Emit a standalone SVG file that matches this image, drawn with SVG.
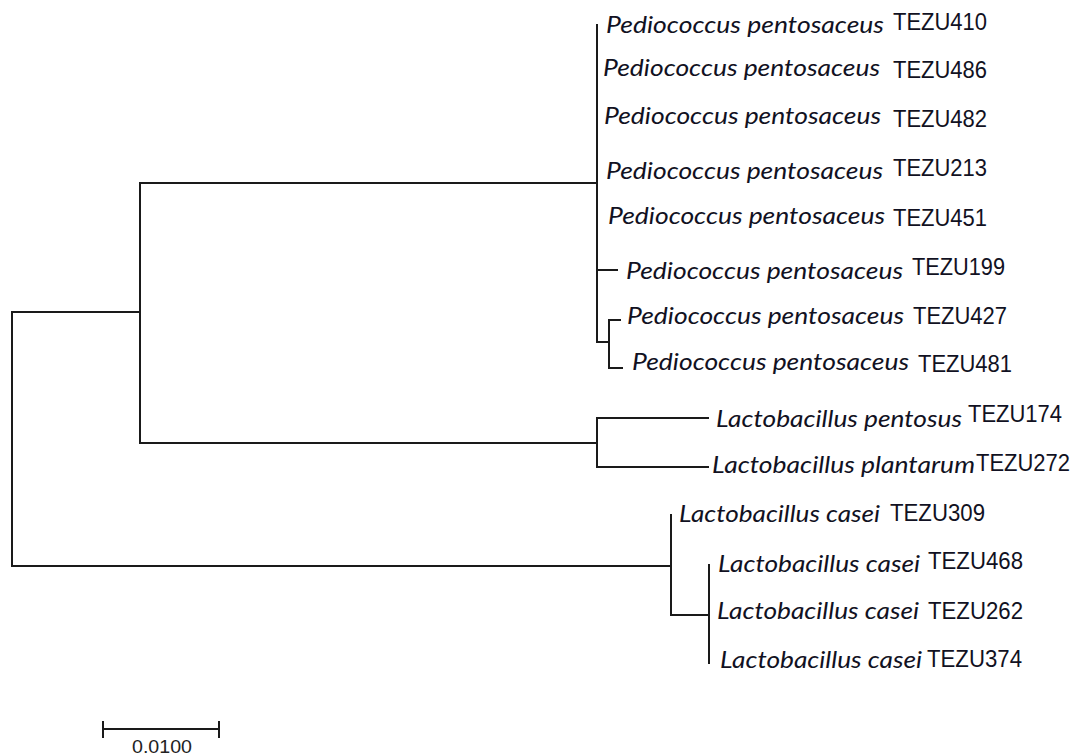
<svg xmlns="http://www.w3.org/2000/svg" width="1075" height="756" viewBox="0 0 1075 756">
<style>
.br{stroke:#1a1a1a;stroke-width:2;fill:none;stroke-linecap:square}
.sp{font-family:Lato,"Liberation Sans",sans-serif;font-style:italic;font-size:24px;fill:#111122}
.st{font-family:"Liberation Sans",Arial,sans-serif;font-size:23px;fill:#111122}
.sc{font-family:"Liberation Sans",Arial,sans-serif;font-size:18px;fill:#222}
</style>
<rect width="1075" height="756" fill="#fff"/>
<g id="connectors" class="br">
<path d="M12 312V566"/>
<path d="M12 312H140"/>
<path d="M140 183V443"/>
<path d="M140 183H597"/>
<path d="M597 25V342"/>
<path d="M597 270H617"/>
<path d="M597 342H609"/>
<path d="M609 320V368"/>
<path d="M609 320H620"/>
<path d="M609 368H622"/>
<path d="M140 443H597"/>
<path d="M597 418V467"/>
<path d="M597 418H708"/>
<path d="M597 467H708"/>
<path d="M12 566H671"/>
<path d="M671 515V615"/>
<path d="M671 615H709"/>
<path d="M709 565V663"/>
</g>
<g id="leaf-TEZU410"><text class="sp" x="606" y="33" textLength="278" lengthAdjust="spacingAndGlyphs">Pediococcus pentosaceus</text><text class="st" x="893" y="30" textLength="94" lengthAdjust="spacingAndGlyphs">TEZU410</text></g>
<g id="leaf-TEZU486"><text class="sp" x="603" y="76" textLength="277" lengthAdjust="spacingAndGlyphs">Pediococcus pentosaceus</text><text class="st" x="893" y="78" textLength="94" lengthAdjust="spacingAndGlyphs">TEZU486</text></g>
<g id="leaf-TEZU482"><text class="sp" x="604" y="124" textLength="277" lengthAdjust="spacingAndGlyphs">Pediococcus pentosaceus</text><text class="st" x="893" y="127" textLength="94" lengthAdjust="spacingAndGlyphs">TEZU482</text></g>
<g id="leaf-TEZU213"><text class="sp" x="606" y="179" textLength="277" lengthAdjust="spacingAndGlyphs">Pediococcus pentosaceus</text><text class="st" x="893" y="176" textLength="94" lengthAdjust="spacingAndGlyphs">TEZU213</text></g>
<g id="leaf-TEZU451"><text class="sp" x="608" y="224" textLength="277" lengthAdjust="spacingAndGlyphs">Pediococcus pentosaceus</text><text class="st" x="893" y="226" textLength="94" lengthAdjust="spacingAndGlyphs">TEZU451</text></g>
<g id="leaf-TEZU199"><text class="sp" x="626" y="279" textLength="277" lengthAdjust="spacingAndGlyphs">Pediococcus pentosaceus</text><text class="st" x="912" y="275" textLength="93" lengthAdjust="spacingAndGlyphs">TEZU199</text></g>
<g id="leaf-TEZU427"><text class="sp" x="627" y="324" textLength="277" lengthAdjust="spacingAndGlyphs">Pediococcus pentosaceus</text><text class="st" x="913" y="324" textLength="94" lengthAdjust="spacingAndGlyphs">TEZU427</text></g>
<g id="leaf-TEZU481"><text class="sp" x="632" y="370" textLength="277" lengthAdjust="spacingAndGlyphs">Pediococcus pentosaceus</text><text class="st" x="918" y="372" textLength="94" lengthAdjust="spacingAndGlyphs">TEZU481</text></g>
<g id="leaf-TEZU174"><text class="sp" x="716" y="427" textLength="246" lengthAdjust="spacingAndGlyphs">Lactobacillus pentosus</text><text class="st" x="968" y="422" textLength="94" lengthAdjust="spacingAndGlyphs">TEZU174</text></g>
<g id="leaf-TEZU272"><text class="sp" x="712" y="473" textLength="263" lengthAdjust="spacingAndGlyphs">Lactobacillus plantarum</text><text class="st" x="976" y="471" textLength="94" lengthAdjust="spacingAndGlyphs">TEZU272</text></g>
<g id="leaf-TEZU309"><text class="sp" x="679" y="522" textLength="201" lengthAdjust="spacingAndGlyphs">Lactobacillus casei</text><text class="st" x="890" y="521" textLength="95" lengthAdjust="spacingAndGlyphs">TEZU309</text></g>
<g id="leaf-TEZU468"><text class="sp" x="718" y="572" textLength="202" lengthAdjust="spacingAndGlyphs">Lactobacillus casei</text><text class="st" x="928" y="569" textLength="95" lengthAdjust="spacingAndGlyphs">TEZU468</text></g>
<g id="leaf-TEZU262"><text class="sp" x="717" y="619" textLength="202" lengthAdjust="spacingAndGlyphs">Lactobacillus casei</text><text class="st" x="928" y="619" textLength="95" lengthAdjust="spacingAndGlyphs">TEZU262</text></g>
<g id="leaf-TEZU374"><text class="sp" x="720" y="668" textLength="202" lengthAdjust="spacingAndGlyphs">Lactobacillus casei</text><text class="st" x="927" y="667" textLength="95" lengthAdjust="spacingAndGlyphs">TEZU374</text></g>
<g id="scale-bar">
<path class="br" d="M103 729H219M103 722V737M219 722V737"/>
<text class="sc" x="132" y="753" textLength="60" lengthAdjust="spacingAndGlyphs">0.0100</text>
</g>
</svg>
